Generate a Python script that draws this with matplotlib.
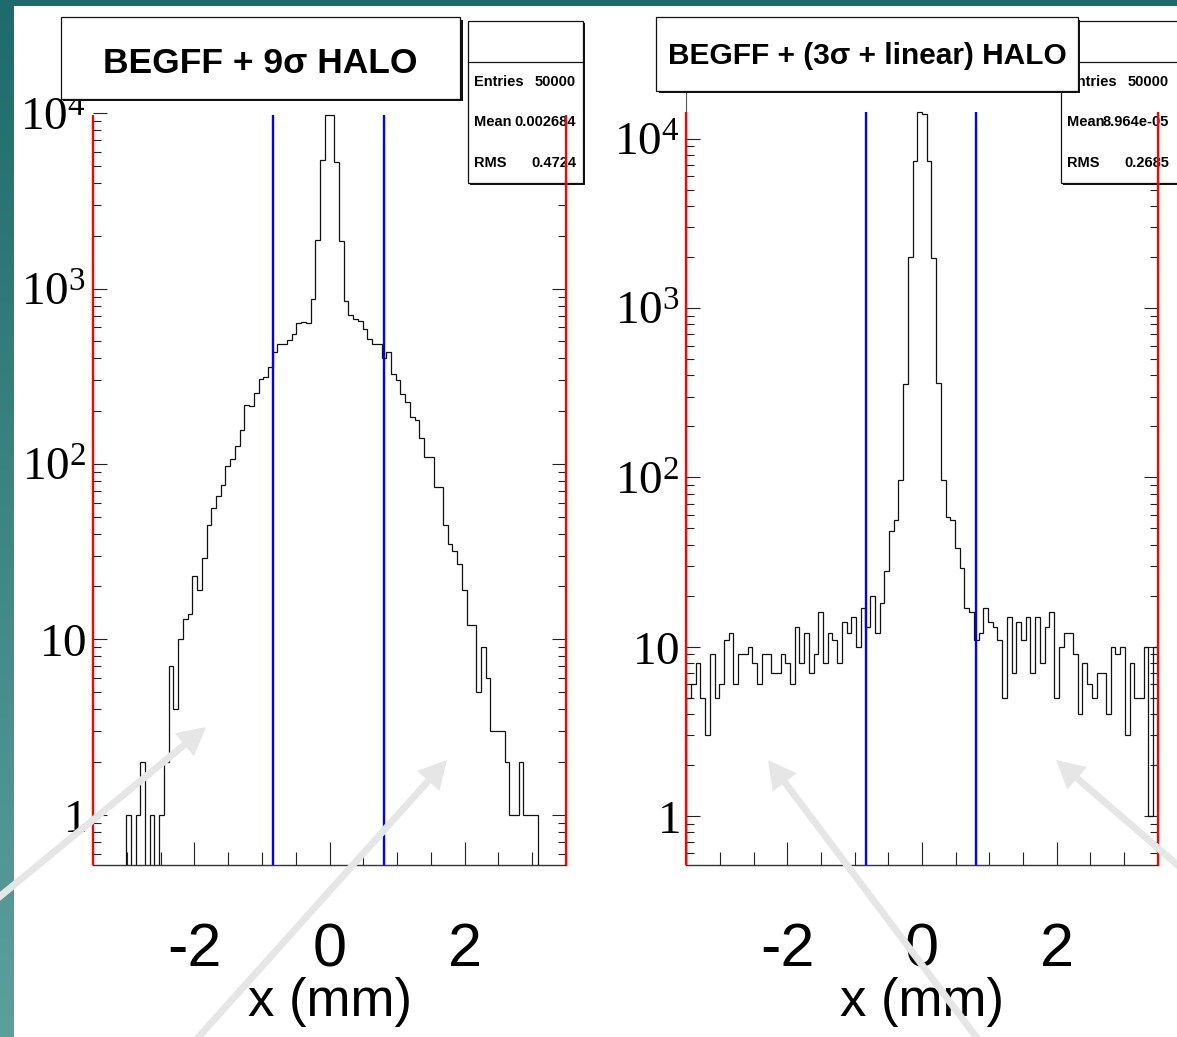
import numpy as np
import matplotlib
matplotlib.use("Agg")
import matplotlib.pyplot as plt
import matplotlib.transforms as mtransforms
from matplotlib.patches import Rectangle, FancyArrow
from matplotlib.ticker import FixedLocator, FixedFormatter, MultipleLocator, LogLocator, NullFormatter

plt.rcParams['font.family'] = ['Liberation Sans', 'DejaVu Sans']
plt.rcParams['mathtext.fontset'] = 'custom'
plt.rcParams['mathtext.rm'] = 'Liberation Serif'
plt.rcParams['axes.unicode_minus'] = False

# ---------------- data ----------------
bin_edges = np.linspace(-3.5, 3.5, 101)

counts_9sigma = [
    0, 0, 0, 0, 0, 0, 0, 1, 0, 1,
    2, 0, 1, 0, 1, 2, 7, 4, 10, 13,
    14, 23, 19, 29, 45, 56, 66, 76, 97, 107,
    126, 156, 217, 214, 253, 303, 315, 356, 434, 481,
    480, 512, 550, 640, 646, 640, 875, 1900, 5400, 9800,
    9800, 5300, 1860, 845, 710, 670, 650, 590, 515, 480,
    481, 400, 434, 327, 300, 251, 225, 185, 178, 141,
    109, 109, 74, 74, 45, 35, 32, 27, 19, 12,
    12, 5, 9, 6, 3, 3, 3, 2, 1, 1,
    2, 1, 1, 1, 0, 0, 0, 0, 0, 0]

counts_3sigma_lin = [
    5, 6, 8, 5, 3, 9, 5, 6, 11, 12,
    6, 9, 9, 10, 8, 6, 9, 9, 7, 7,
    9, 8, 6, 13, 8, 12, 7, 9, 16, 8,
    12, 11, 8, 14, 12, 15, 10, 17, 13, 20,
    12, 18, 28, 48, 56, 97, 357, 2000, 7360, 14350,
    14060, 7360, 1970, 359, 97, 58, 56, 38, 29, 17,
    16, 11, 12, 17, 14, 13, 11, 5, 15, 7,
    14, 11, 15, 7, 15, 8, 13, 16, 5, 10,
    12, 12, 9, 4, 8, 6, 5, 7, 7, 4,
    10, 9, 10, 3, 8, 5, 5, 10, 1, 10]

cut_x = [-0.83, 0.80]        # blue lines
window_x = [-3.5, 3.5]       # red lines

titles = ["BEGFF + 9\u03c3 HALO", "BEGFF + (3\u03c3 + linear) HALO"]
stat_names = ["Entries", "Mean", "RMS"]
stats_9sigma = ["50000", "0.002684", "0.4724"]
stats_3sigma_lin = ["50000", "8.964e-05", "0.2685"]

y_ticks = [1, 10, 100, 1000, 10000]
y_labels = [r'$\mathrm{1}$', r'$\mathrm{10}$', r'$\mathrm{10^{2}}$',
            r'$\mathrm{10^{3}}$', r'$\mathrm{10^{4}}$']
x_ticks = [-2, 0, 2]

# ---------------- figure ----------------
W, H = 1177, 1037
fig = plt.figure(figsize=(W / 100, H / 100), dpi=100)
fig.patch.set_facecolor('white')
# pixel coordinates, origin top-left
px = mtransforms.Affine2D().scale(1 / W, -1 / H).translate(0, 1) + fig.transFigure

# slide background: teal strip on top and a gradient strip on the left
bg = fig.add_axes([0, 0, 1, 1], zorder=-5)
bg.axis('off')
top_col = np.array([30, 107, 107]) / 255
bot_col = np.array([92, 160, 156]) / 255
t = np.linspace(0, 1, 256)[:, None, None]
grad = top_col * (1 - t) + bot_col * t
bg.imshow(grad, extent=(0, 14, H, 0), aspect='auto', interpolation='bilinear')
bg.add_patch(Rectangle((0, 0), W, 6, color=top_col, lw=0))
bg.set_xlim(0, W)
bg.set_ylim(H, 0)

fg = fig.add_axes([0, 0, 1, 1], zorder=10)
fg.set_xlim(0, W)
fg.set_ylim(H, 0)
fg.axis('off')


def stats_box(ax, x0, x1, values, val_right):
    y0, y1, ysep = 21, 183, 62
    ax.add_patch(Rectangle((x0 + 2, y0 + 2), x1 - x0, y1 - y0, transform=px,
                           fc='#111111', ec='none', clip_on=False, zorder=3))
    ax.add_patch(Rectangle((x0, y0), x1 - x0, y1 - y0, transform=px,
                           fc='white', ec='#111111', lw=0.9, clip_on=False, zorder=3))
    ax.plot([x0, x1], [ysep, ysep], transform=px, color='#111111', lw=0.9,
            clip_on=False, zorder=3)
    for name, val, yy in zip(stat_names, values, [82, 122, 163]):
        ax.text(x0 + 6, yy, name, transform=px, ha='left', va='center',
                fontsize=10.5, fontweight='bold', zorder=3.5, clip_on=False)
        ax.text(val_right, yy, val, transform=px, ha='right',
                va='center', fontsize=10.5, fontweight='bold', zorder=3.5, clip_on=False)


def panel(x0, x1, ytop, ybot, ylims, counts, stats, sx0, sx1, sval, left_spine):
    ax = fig.add_axes([x0 / W, 1 - ybot / H, (x1 - x0) / W, (ybot - ytop) / H])
    ax.set_facecolor('none')
    ax.set_yscale('log')
    ax.set_xlim(-3.5, 3.5)
    ax.set_ylim(*ylims)
    vals = np.array(counts, dtype=float)
    ax.stairs(np.where(vals > 0, vals, 1e-3), bin_edges, baseline=1e-3,
              color='#111111', lw=0.9, zorder=2)
    peak = vals.max()
    ax.vlines(cut_x, ylims[0], peak, color='#0000ff', lw=1.7, zorder=4)
    ax.vlines(window_x, ylims[0], peak, color='#ff0000', lw=1.7, zorder=5, clip_on=False)

    for s in ['top', 'right']:
        ax.spines[s].set_visible(False)
    ax.spines['left'].set_visible(left_spine)
    ax.spines['left'].set_color('#555555')
    ax.spines['left'].set_linewidth(0.8)
    ax.spines['bottom'].set_color('#333333')
    ax.spines['bottom'].set_linewidth(1.0)

    ax.xaxis.set_major_locator(FixedLocator(x_ticks))
    ax.xaxis.set_minor_locator(MultipleLocator(0.5))
    ax.tick_params(axis='x', which='major', direction='in', length=16.5, width=0.8,
                   color='#222222', labelsize=44, pad=41)
    ax.tick_params(axis='x', which='minor', direction='in', length=9.4, width=0.8,
                   color='#222222')
    ax.yaxis.set_major_locator(FixedLocator(y_ticks))
    ax.yaxis.set_major_formatter(FixedFormatter(y_labels))
    ax.yaxis.set_minor_locator(LogLocator(base=10, subs=np.arange(2, 10), numticks=20))
    ax.yaxis.set_minor_formatter(NullFormatter())
    ax.tick_params(axis='y', which='both', direction='in', left=True, right=True,
                   color='#222222', width=0.8)
    ax.tick_params(axis='y', which='major', length=10, labelsize=34, pad=5)
    ax.tick_params(axis='y', which='minor', length=5.8)

    ax.set_xlabel('x (mm)', fontsize=38)
    ax.xaxis.set_label_coords(0.5, (ybot - 977) / (ybot - ytop))

    stats_box(ax, sx0, sx1, stats, sval)
    return ax


panel(93, 566, 99, 865.3, (0.514, 12050), counts_9sigma, stats_9sigma, 468, 583, 576, False)
panel(686.3, 1157.8, 90, 865.3, (0.511, 19400), counts_3sigma_lin, stats_3sigma_lin,
      1061, 1182, 1169, True)

# title boxes
boxes = [(60.5, 17.3, 460.4, 99), (656.3, 17.3, 1077.5, 90.7)]
for (bx0, by0, bx1, by1), title, fs, dy in zip(boxes, titles, [25.5, 21.5], [5, 2]):
    fg.add_patch(Rectangle((bx0 + 2.5, by0 + 2.5), bx1 - bx0, by1 - by0, fc='#111111', ec='none'))
    fg.add_patch(Rectangle((bx0, by0), bx1 - bx0, by1 - by0, fc='white', ec='#111111', lw=0.9))
    fg.text((bx0 + bx1) / 2, (by0 + by1) / 2 + dy, title, ha='center', va='center',
            fontsize=fs, fontweight='bold')

# light grey pointer arrows of the slide
arrows = [((-30, 921), (206, 727)), ((169, 1070), (447, 760)),
          ((1001, 1070), (768, 760)), ((1210, 893), (1056, 760))]
for (xa, ya), (xb, yb) in arrows:
    fg.add_patch(FancyArrow(xa, ya, xb - xa, yb - ya, width=7, head_width=30, head_length=28,
                            length_includes_head=True, color='#e6e6e6', lw=0))

fig.savefig('out.png', dpi=100)
